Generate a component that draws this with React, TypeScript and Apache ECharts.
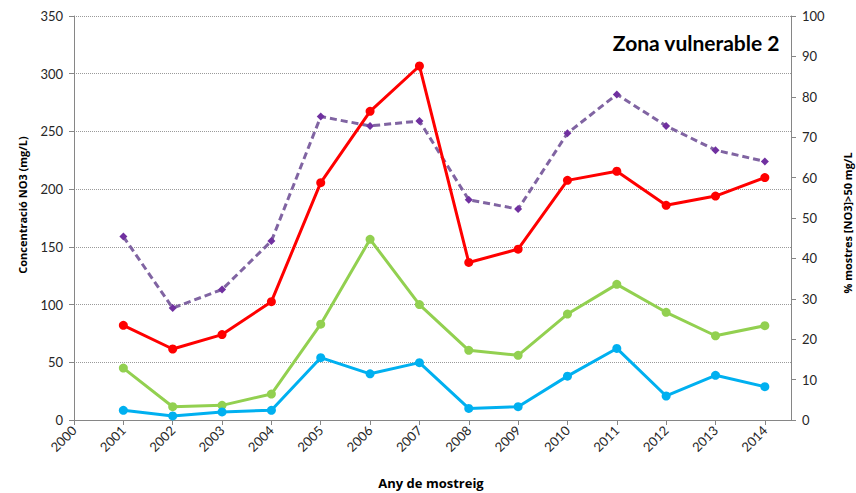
import React, { useEffect, useRef } from "react";
import * as echarts from "echarts";

const years = [2001, 2002, 2003, 2004, 2005, 2006, 2007, 2008, 2009, 2010, 2011, 2012, 2013, 2014];
const maxConc = [82, 61.5, 74, 102.5, 205.6, 267.4, 306.7, 136.5, 148, 207.6, 215.5, 186, 194, 210];
const meanConc = [45, 11.5, 12.7, 22.5, 83, 156.5, 100, 60.4, 56, 91.8, 117.5, 93.3, 73, 81.7];
const minConc = [8.4, 3.5, 7, 8.4, 54, 40, 49.7, 10, 11.5, 38, 62, 20.8, 38.7, 28.9];
const pctOver50 = [45.4, 27.7, 32.3, 44.3, 75.1, 72.8, 74, 54.5, 52.2, 71, 80.6, 72.8, 66.8, 64];

const titleText = "Zona vulnerable 2";
const xName = "Any de mostreig";
const yLeftName = "Concentració NO3 (mg/L)";
const yRightName = "% mostres [NO3]>50 mg/L";

const FONT = "Lato, 'Liberation Sans', sans-serif";
const NAME_FONT = "'Open Sans', Lato, sans-serif";

const pairs = (vals: number[]) => years.map((y, i) => [y, vals[i]]);

export default function App() {
  const ref = useRef<HTMLDivElement>(null);
  useEffect(() => {
    document.body.style.margin = "0";
    document.body.style.overflow = "hidden";
    if (!ref.current) return;
    const chart = echarts.init(ref.current, null, { renderer: "svg" });
    const axisLine = { show: true, lineStyle: { color: "#868686", width: 1 } };
    const axisLabel = { color: "#262626", fontFamily: FONT, fontSize: 13 };
    const nameStyle = { fill: "#000", fontFamily: NAME_FONT, fontSize: 11, fontWeight: "bold" };
    const lineSeries = (name: string, vals: number[], color: string) => ({
      name,
      type: "line",
      data: pairs(vals),
      yAxisIndex: 0,
      symbol: "circle",
      symbolSize: 9,
      lineStyle: { color, width: 3 },
      itemStyle: { color },
      z: 3,
    });
    chart.setOption({
      animation: false,
      backgroundColor: "#fff",
      textStyle: { fontFamily: FONT },
      grid: { left: 74, right: 65, top: 16, bottom: 73, containLabel: false },
      graphic: [
        {
          type: "text",
          right: 76,
          top: 32,
          style: { text: titleText, fill: "#000", fontFamily: FONT, fontSize: 21, fontWeight: "bold" },
        },
        {
          type: "text",
          x: 22,
          y: 205,
          rotation: Math.PI / 2,
          style: { ...nameStyle, text: yLeftName, align: "center", verticalAlign: "middle" },
        },
        {
          type: "text",
          x: 847,
          y: 223,
          rotation: Math.PI / 2,
          style: { ...nameStyle, text: yRightName, align: "center", verticalAlign: "middle" },
        },
        {
          type: "text",
          x: 431,
          y: 483,
          style: { ...nameStyle, fontSize: 13, text: xName, align: "center", verticalAlign: "middle" },
        },
      ],
      xAxis: {
        type: "value",
        min: 2000,
        max: 2014.53,
        interval: 1,
        axisLine,
        axisTick: { show: true, length: 5, lineStyle: { color: "#868686" } },
        splitLine: { show: false },
        axisLabel: {
          ...axisLabel,
          rotate: 45,
          margin: 8,
          showMaxLabel: false,
          formatter: (v: number) => (Number.isInteger(v) ? String(v) : ""),
        },
      },
      yAxis: [
        {
          type: "value",
          min: 0,
          max: 350,
          interval: 50,
          position: "left",
          axisLine,
          axisTick: { show: true, length: 5, lineStyle: { color: "#868686" } },
          axisLabel: { ...axisLabel, margin: 11 },
          splitLine: { show: true, lineStyle: { color: "#9a9a9a", type: [1, 1], width: 1 } },
        },
        {
          type: "value",
          min: 0,
          max: 100,
          interval: 10,
          position: "right",
          axisLine,
          axisTick: { show: true, length: 5, lineStyle: { color: "#868686" } },
          axisLabel: { ...axisLabel, margin: 11 },
          splitLine: { show: false },
        },
      ],
      series: [
        lineSeries("Màxim", maxConc, "#FF0000"),
        lineSeries("Mitjana", meanConc, "#92D050"),
        lineSeries("Mínim", minConc, "#00B0F0"),
        {
          name: "% mostres",
          type: "line",
          data: pairs(pctOver50),
          yAxisIndex: 1,
          symbol: "diamond",
          symbolSize: 8,
          lineStyle: { color: "#8064A2", width: 3, type: [7, 4] },
          itemStyle: { color: "#7030A0" },
          z: 2,
        },
      ],
    });
    return () => chart.dispose();
  }, []);
  return <div ref={ref} style={{ width: 856, height: 493 }} />;
}
